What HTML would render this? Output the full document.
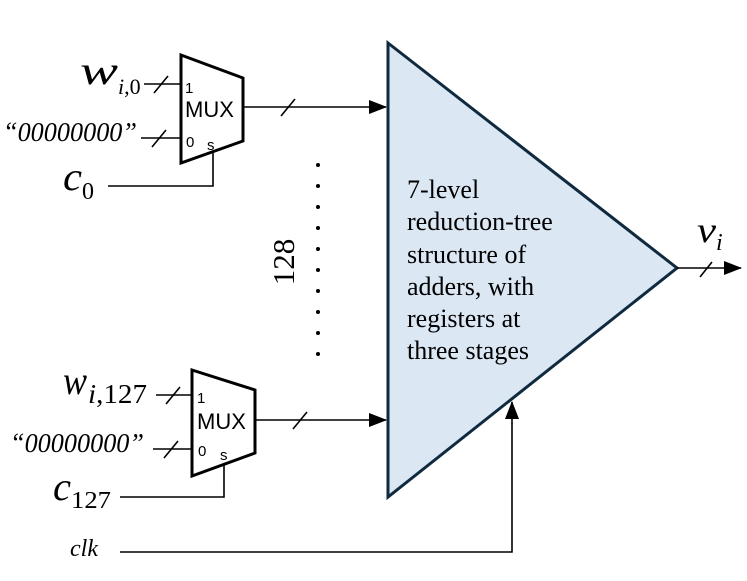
<!DOCTYPE html>
<html><head><style>
body{margin:0;background:#fff;}
svg{display:block;}
.m{font-family:"Liberation Serif",serif;font-style:italic;}
.s{font-family:"Liberation Sans",sans-serif;}
</style></head><body>
<svg width="747" height="581" viewBox="0 0 747 581" xmlns="http://www.w3.org/2000/svg">
<defs>
<marker id="b" markerWidth="18" markerHeight="14" refX="17" refY="7" orient="auto" markerUnits="userSpaceOnUse"><path d="M0,0 L18,7 L0,14 z" fill="#000"/></marker></defs>
<polygon points="388,43 677,268 388,497" fill="#dce7f4" stroke="#0f2a3e" stroke-width="3"/>
<g font-family="Liberation Serif,serif" font-size="26" fill="#000">
<text x="407" y="198">7-level</text>
<text x="407" y="230">reduction-tree</text>
<text x="407" y="263">structure of</text>
<text x="407" y="295">adders, with</text>
<text x="407" y="327">registers at</text>
<text x="407" y="359">three stages</text>
</g>
<!-- MUX1 -->
<polygon points="181,55 243,78 243,141 181,163" fill="#fff" stroke="#000" stroke-width="3"/>
<text x="185" y="93" class="s" font-size="15">1</text>
<text x="185" y="117" class="s" font-size="22">MUX</text>
<text x="186" y="147" class="s" font-size="15">0</text>
<text x="207" y="150" class="s" font-size="15">s</text>
<line x1="144" y1="84" x2="181" y2="84" stroke="#000" stroke-width="1.6"/>
<line x1="154" y1="93" x2="168" y2="76" stroke="#000" stroke-width="1.6"/>
<line x1="141" y1="138" x2="181" y2="138" stroke="#000" stroke-width="1.6"/>
<line x1="152" y1="147" x2="166" y2="130" stroke="#000" stroke-width="1.6"/>
<polyline points="108,186 213,186 213,153" fill="none" stroke="#000" stroke-width="1.6"/>
<line x1="243" y1="107" x2="386" y2="107" stroke="#000" stroke-width="1.6" marker-end="url(#b)"/>
<line x1="281" y1="116" x2="295" y2="99" stroke="#000" stroke-width="1.6"/>
<text x="80" y="84" class="m" font-size="40" textLength="38" lengthAdjust="spacingAndGlyphs">w</text>
<text x="118" y="94" class="m" font-size="22">i<tspan font-style="normal">,0</tspan></text>
<text x="3" y="141" class="m" font-size="27" textLength="134" lengthAdjust="spacingAndGlyphs">“00000000”</text>
<text x="63" y="190" class="m" font-size="40" textLength="19" lengthAdjust="spacingAndGlyphs">c</text>
<text x="82" y="199" font-family="Liberation Serif,serif" font-size="24">0</text>
<!-- MUX2 -->
<polygon points="192,370 255,390 255,453 192,476" fill="#fff" stroke="#000" stroke-width="3"/>
<text x="197" y="403" class="s" font-size="15">1</text>
<text x="197" y="429" class="s" font-size="22">MUX</text>
<text x="198" y="456" class="s" font-size="15">0</text>
<text x="220" y="460" class="s" font-size="15">s</text>
<line x1="156" y1="395" x2="192" y2="395" stroke="#000" stroke-width="1.6"/>
<line x1="166" y1="404" x2="180" y2="387" stroke="#000" stroke-width="1.6"/>
<line x1="153" y1="449" x2="192" y2="449" stroke="#000" stroke-width="1.6"/>
<line x1="164" y1="458" x2="178" y2="441" stroke="#000" stroke-width="1.6"/>
<polyline points="120,497 224,497 224,465" fill="none" stroke="#000" stroke-width="1.6"/>
<line x1="255" y1="420" x2="386" y2="420" stroke="#000" stroke-width="1.6" marker-end="url(#b)"/>
<line x1="293" y1="429" x2="307" y2="412" stroke="#000" stroke-width="1.6"/>
<text x="63" y="394" class="m" font-size="40" textLength="24" lengthAdjust="spacingAndGlyphs">w</text>
<text x="88" y="403" class="m" font-size="27" textLength="59" lengthAdjust="spacingAndGlyphs">i<tspan font-style="normal">,127</tspan></text>
<text x="10" y="452" class="m" font-size="27" textLength="134" lengthAdjust="spacingAndGlyphs">“00000000”</text>
<text x="53" y="500" class="m" font-size="40" textLength="18" lengthAdjust="spacingAndGlyphs">c</text>
<text x="71" y="508" font-family="Liberation Serif,serif" font-size="24" textLength="40" lengthAdjust="spacingAndGlyphs">127</text>
<!-- clk -->
<text x="70" y="556" class="m" font-size="24">clk</text>
<polyline points="120,552 512,552 512,402" fill="none" stroke="#000" stroke-width="1.6" marker-end="url(#b)"/>
<!-- output -->
<line x1="677" y1="268" x2="741" y2="268" stroke="#000" stroke-width="1.6" marker-end="url(#b)"/>
<line x1="700" y1="277" x2="712" y2="262" stroke="#000" stroke-width="1.6"/>
<text x="697" y="242" class="m" font-size="36" textLength="19" lengthAdjust="spacingAndGlyphs">v</text>
<text x="716" y="250" class="m" font-size="24">i</text>
<!-- dots -->
<g fill="#000">
<circle cx="318" cy="165" r="2"/><circle cx="318" cy="186" r="2"/><circle cx="318" cy="207" r="2"/><circle cx="318" cy="228" r="2"/><circle cx="318" cy="249" r="2"/><circle cx="318" cy="270" r="2"/><circle cx="318" cy="291" r="2"/><circle cx="318" cy="312" r="2"/><circle cx="318" cy="333" r="2"/><circle cx="318" cy="354" r="2"/>
</g>
<text transform="translate(294,262) rotate(-90)" text-anchor="middle" font-family="Liberation Serif,serif" font-size="31">128</text>
</svg>
</body></html>
